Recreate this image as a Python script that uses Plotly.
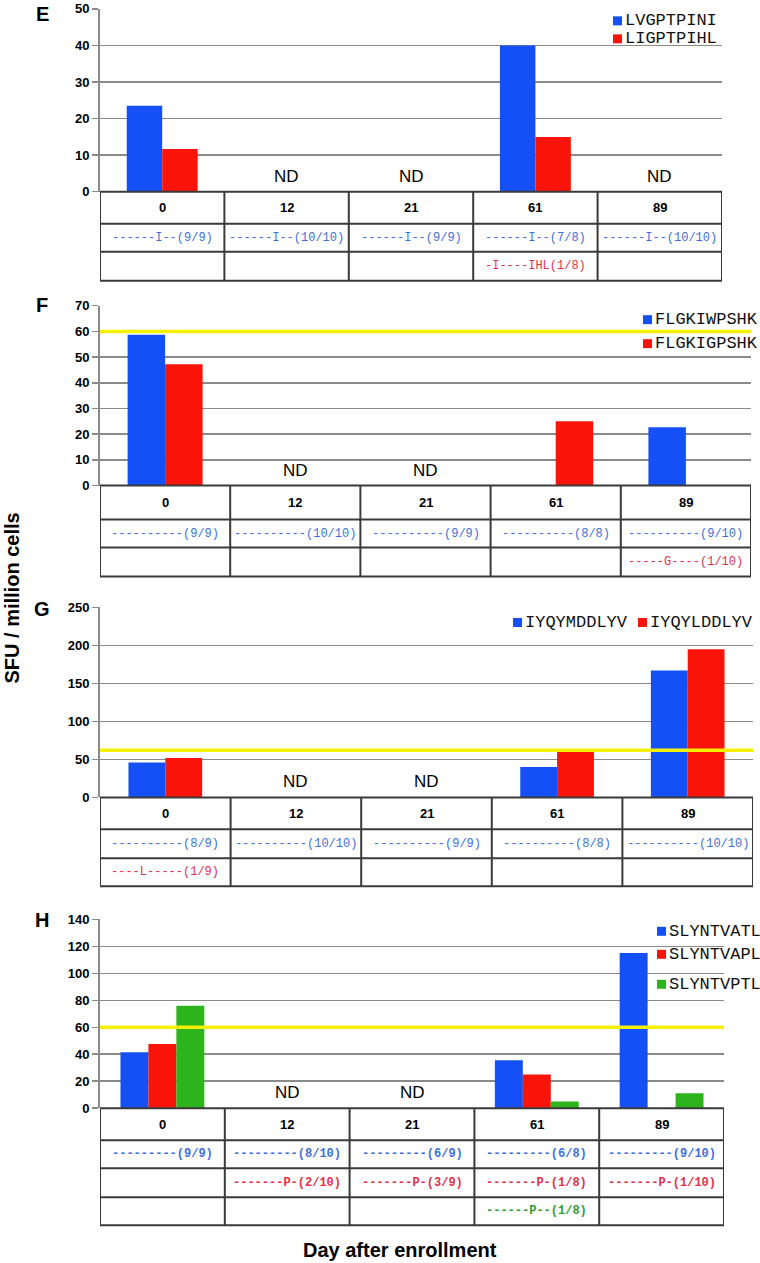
import plotly.graph_objects as go

W, H = 760, 1263

# ---------------- data ----------------
days = ["0", "12", "21", "61", "89"]

# Panel E
e_names = ["LVGPTPINI", "LIGPTPIHL"]
e_lvgptpini = [23.5, None, None, 40, None]
e_ligptpihl = [11.7, None, None, 15, None]
e_nd = ["", "ND", "ND", "", "ND"]
e_row1 = ["------I--(9/9)", "------I--(10/10)", "------I--(9/9)", "------I--(7/8)", "------I--(10/10)"]
e_row2 = ["", "", "", "-I----IHL(1/8)", ""]

# Panel F
f_names = ["FLGKIWPSHK", "FLGKIGPSHK"]
f_flgkiwpshk = [58.7, None, None, 0, 22.7]
f_flgkigpshk = [47.2, None, None, 25, 0]
f_nd = ["", "ND", "ND", "", ""]
f_row1 = ["----------(9/9)", "----------(10/10)", "----------(9/9)", "----------(8/8)", "----------(9/10)"]
f_row2 = ["", "", "", "", "-----G----(1/10)"]
f_threshold = 60

# Panel G
g_names = ["IYQYMDDLYV", "IYQYLDDLYV"]
g_iyqymddlyv = [46, None, None, 40, 167]
g_iyqylddlyv = [52, None, None, 60, 195]
g_nd = ["", "ND", "ND", "", ""]
g_row1 = ["----------(8/9)", "----------(10/10)", "----------(9/9)", "----------(8/8)", "----------(10/10)"]
g_row2 = ["----L-----(1/9)", "", "", "", ""]
g_threshold = 62

# Panel H
h_names = ["SLYNTVATL", "SLYNTVAPL", "SLYNTVPTL"]
h_slyntvatl = [41.5, None, None, 35.5, 115]
h_slyntvapl = [47.5, None, None, 25, 0]
h_slyntvptl = [76, None, None, 5, 11]
h_nd = ["", "ND", "ND", "", ""]
h_row1 = ["---------(9/9)", "---------(8/10)", "---------(6/9)", "---------(6/8)", "---------(9/10)"]
h_row2 = ["", "-------P-(2/10)", "-------P-(3/9)", "-------P-(1/8)", "-------P-(1/10)"]
h_row3 = ["", "", "", "------P--(1/8)", ""]
h_threshold = 60

# ---------------- styling ----------------
BLUE, RED, GREEN = "#1450f5", "#fa140a", "#2db31c"
TBLUE, TRED, TGREEN = "#3d6fe0", "#e4304c", "#2f9e2f"
GRID = "#8a8a8a"
TABLE = "#3a3a3a"
SANS = "Arial, Liberation Sans, Helvetica, sans-serif"
MONO = "Courier New, Liberation Mono, monospace"

panels = [
    dict(letter="E", series=[e_lvgptpini, e_ligptpihl], names=e_names, colors=[BLUE, RED],
         nd=e_nd, rows=[(e_row1, TBLUE), (e_row2, TRED)], thr=None, ymax=50, dtick=10,
         bold=False, x0=100, x1=722, top=8, zero=191, rowlines=[191, 223, 251, 280],
         barw=0.285, letter_y=13, leg=dict(kind="v", x=613, ys=[20, 38])),
    dict(letter="F", series=[f_flgkiwpshk, f_flgkigpshk], names=f_names, colors=[BLUE, RED],
         nd=f_nd, rows=[(f_row1, TBLUE), (f_row2, TRED)], thr=f_threshold, ymax=70, dtick=10,
         bold=False, x0=100, x1=751, top=305, zero=485, rowlines=[485, 519, 547, 576],
         barw=0.288, letter_y=304, leg=dict(kind="v", x=643, ys=[319, 343])),
    dict(letter="G", series=[g_iyqymddlyv, g_iyqylddlyv], names=g_names, colors=[BLUE, RED],
         nd=g_nd, rows=[(g_row1, TBLUE), (g_row2, TRED)], thr=g_threshold, ymax=250, dtick=50,
         bold=False, x0=100, x1=753, top=607, zero=797, rowlines=[797, 829, 858, 886],
         barw=0.282, letter_y=609, leg=dict(kind="h", xs=[513, 638], y=622)),
    dict(letter="H", series=[h_slyntvatl, h_slyntvapl, h_slyntvptl], names=h_names,
         colors=[BLUE, RED, GREEN], nd=h_nd,
         rows=[(h_row1, TBLUE), (h_row2, TRED), (h_row3, TGREEN)], thr=h_threshold,
         ymax=140, dtick=20, bold=True, x0=100, x1=724, top=919, zero=1108,
         rowlines=[1108, 1140, 1168, 1197, 1225], barw=0.224, letter_y=920,
         leg=dict(kind="v", x=657, ys=[931, 954, 984])),
]

# the page photo shows a slight vertical squeeze; compensate
VA, VB = 6.15, 0.9887


def px(x):
    return x / W


def py(y):
    yf = (y - VA) / VB
    return 1 - yf / H


fig = go.Figure()
layout = dict(width=W, height=H, margin=dict(l=0, r=0, t=0, b=0),
              paper_bgcolor="white", plot_bgcolor="white", barmode="overlay",
              showlegend=False, font=dict(family=SANS, color="black"))
shapes, annotations = [], []

for i, p in enumerate(panels, start=1):
    xa = "x" if i == 1 else f"x{i}"
    ya = "y" if i == 1 else f"y{i}"
    xkey = "xaxis" if i == 1 else f"xaxis{i}"
    ykey = "yaxis" if i == 1 else f"yaxis{i}"
    n = len(p["series"])
    w = p["barw"]
    for k, (vals, name, col) in enumerate(zip(p["series"], p["names"], p["colors"])):
        fig.add_trace(go.Bar(x=days, y=vals, name=name, xaxis=xa, yaxis=ya,
                             marker=dict(color=col, line=dict(width=0)),
                             width=w, offset=-n * w / 2 + k * w, showlegend=False,
                             hoverinfo="skip"))
    layout[xkey] = dict(domain=[px(p["x0"]), px(p["x1"])], anchor=ya, type="category",
                        categoryorder="array", categoryarray=days, range=[-0.5, 4.5],
                        showticklabels=False, showgrid=False, zeroline=False,
                        showline=False, ticks="", fixedrange=True)
    layout[ykey] = dict(domain=[py(p["zero"]), py(p["top"])], anchor=xa,
                        range=[0, p["ymax"]], dtick=p["dtick"], tick0=0,
                        showgrid=True, gridcolor=GRID, gridwidth=1.5,
                        zeroline=False, showline=True, linecolor=GRID, linewidth=2,
                        ticks="outside", ticklen=6, tickcolor=GRID, tickwidth=1.5,
                        fixedrange=True,
                        tickfont=dict(family=SANS, size=13, color="black", weight="bold"))
    # threshold line
    if p["thr"] is not None:
        shapes.append(dict(type="line", xref=xa, yref=ya, x0=-0.5, x1=4.5,
                           y0=p["thr"], y1=p["thr"], layer="above",
                           line=dict(color="#f5f000", width=3.5)))
    # table lines
    rl = p["rowlines"]
    for yy in rl:
        shapes.append(dict(type="line", xref=xa, yref="paper", x0=-0.5, x1=4.5,
                           y0=py(yy), y1=py(yy), line=dict(color=TABLE, width=2)))
    for c in range(6):
        shapes.append(dict(type="line", xref=xa, yref="paper", x0=c - 0.5, x1=c - 0.5,
                           y0=py(rl[0]), y1=py(rl[-1]), line=dict(color=TABLE, width=2)))
    # header row (days) -- category index positions
    hy = (rl[0] + rl[1]) / 2
    for j, d in enumerate(days):
        annotations.append(dict(x=j, xref=xa, y=py(hy), yref="paper", text=d,
                                showarrow=False, xanchor="center", yanchor="middle",
                                font=dict(family=SANS, size=13, color="black", weight="bold")))
    # sequence rows
    for r, (row, col) in enumerate(p["rows"]):
        ry = (rl[r + 1] + rl[r + 2]) / 2
        for j, t in enumerate(row):
            if t:
                annotations.append(dict(x=j, xref=xa, y=py(ry), yref="paper", text=t,
                                        showarrow=False, xanchor="center", yanchor="middle",
                                        font=dict(family=MONO, size=12, color=col,
                                                  weight="bold" if p["bold"] else "normal")))
    # ND labels
    for j, t in enumerate(p["nd"]):
        if t:
            annotations.append(dict(x=j, xref=xa, y=py(p["zero"] - 4), yref="paper", text=t,
                                    showarrow=False, xanchor="center", yanchor="bottom",
                                    font=dict(family=SANS, size=17, color="black")))
    # panel letter
    annotations.append(dict(x=px(42), y=py(p["letter_y"]), xref="paper", yref="paper",
                            text=p["letter"], showarrow=False, xanchor="center",
                            yanchor="middle",
                            font=dict(family=SANS, size=20, color="black", weight="bold")))
    # legend keys
    lg = p["leg"]
    if lg["kind"] == "v":
        pos = [(lg["x"], yy) for yy in lg["ys"]]
    else:
        pos = [(xx, lg["y"]) for xx in lg["xs"]]
    for (sx, sy), name, col in zip(pos, p["names"], p["colors"]):
        shapes.append(dict(type="rect", xref="paper", yref="paper",
                           x0=px(sx), x1=px(sx + 9), y0=py(sy + 4.5), y1=py(sy - 4.5),
                           fillcolor=col, line=dict(width=0)))
        annotations.append(dict(x=px(sx + 10), y=py(sy), xref="paper", yref="paper",
                                text=name, showarrow=False, xanchor="left", yanchor="middle",
                                font=dict(family=MONO, size=17, color="#111111")))

# axis titles
annotations.append(dict(x=px(12), y=py(598), xref="paper", yref="paper",
                        text="SFU / million cells", textangle=-90, showarrow=False,
                        xanchor="center", yanchor="middle",
                        font=dict(family=SANS, size=20, color="black", weight="bold")))
annotations.append(dict(x=px(400), y=py(1250), xref="paper", yref="paper",
                        text="Day after enrollment", showarrow=False,
                        xanchor="center", yanchor="middle",
                        font=dict(family=SANS, size=20, color="black", weight="bold")))

layout["shapes"] = shapes
layout["annotations"] = annotations
fig.update_layout(**layout)
fig.write_html("out.html", config={"displayModeBar": False, "staticPlot": True},
               post_script="document.body.style.margin='0px';"
                           "document.body.style.overflow='hidden';")
